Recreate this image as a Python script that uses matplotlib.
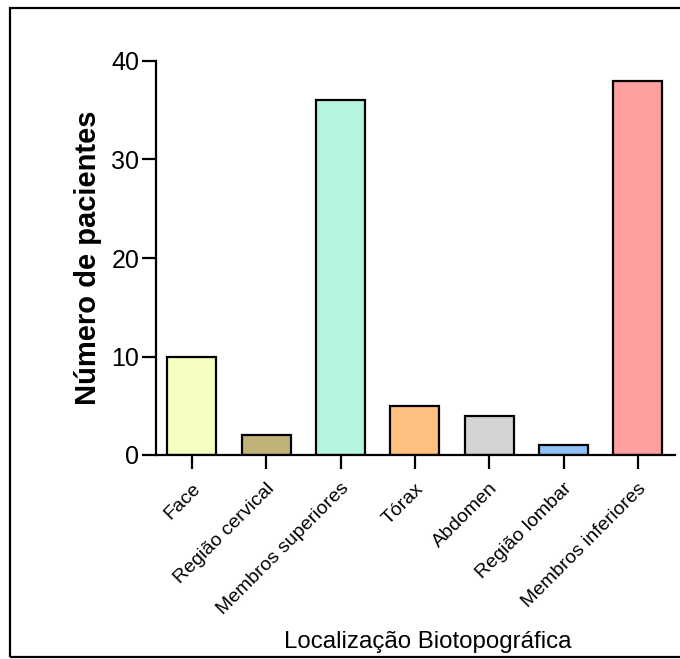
import matplotlib
matplotlib.use("Agg")
import matplotlib.pyplot as plt
from matplotlib.patches import Rectangle

# Patients per biotopographic location
categories = ["Face", "Região cervical", "Membros superiores", "Tórax",
              "Abdomen", "Região lombar", "Membros inferiores"]
patients = [10, 2, 36, 5, 4, 1, 38]
bar_colors = ["#F5FFC0", "#BFB37A", "#B5F5DD", "#FFC080",
              "#D3D3D3", "#90C0F8", "#FFA0A0"]
y_ticks = [0, 10, 20, 30, 40]

plt.rcParams["font.family"] = ["Liberation Sans", "DejaVu Sans"]

W, H = 680, 659
fig = plt.figure(figsize=(W / 100, H / 100), dpi=100)

# Outer frame (open on the right side)
fig.add_artist(Rectangle((10 / W, 1 - 657 / H), 700 / W, (657 - 8) / H,
                         transform=fig.transFigure, fill=False,
                         edgecolor="black", linewidth=1.6, clip_on=False))

ax_left, ax_right = 156, 675
ax = fig.add_axes([ax_left / W, 1 - 455 / H, (ax_right - ax_left) / W, (455 - 61) / H])

x = list(range(len(categories)))
ax.bar(x, patients, width=0.66, color=bar_colors, edgecolor="black",
       linewidth=1.6, zorder=2)

ax.set_xlim(-0.484, 6.5)
ax.set_ylim(0, 40)
ax.set_yticks(y_ticks)
ax.set_xticks(x)
ax.set_xticklabels(categories, rotation=45, ha="right",
                   rotation_mode="anchor", fontsize=14)

for side in ("top", "right"):
    ax.spines[side].set_visible(False)
for side in ("left", "bottom"):
    ax.spines[side].set_linewidth(1.6)

ax.tick_params(axis="y", direction="out", length=10, width=1.6,
               labelsize=18, pad=2)
ax.tick_params(axis="x", direction="out", length=10, width=1.6, pad=8)

ax.set_ylabel("Número de pacientes", fontsize=21, fontweight="bold")
ax.yaxis.set_label_coords((102 - ax_left) / (ax_right - ax_left), 0.5)
fig.text(428 / W, 1 - 642 / H, "Localização Biotopográfica",
         fontsize=17.3, ha="center", va="center")

fig.savefig("out.png", dpi=100, facecolor="white")
